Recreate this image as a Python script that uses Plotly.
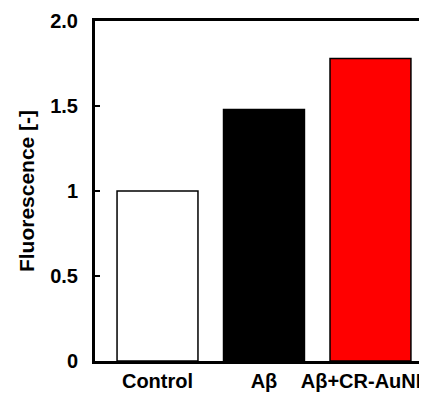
import plotly.graph_objects as go

categories = ["Control", "Aβ", "Aβ+CR-AuNPs"]
values = [1.0, 1.48, 1.78]
bar_colors = ["#FFFFFF", "#000000", "#FF0000"]
ytick_vals = [0, 0.5, 1, 1.5, 2.0]
ytick_text = ["0", "0.5", "1", "1.5", "2.0"]

FONT = "Liberation Sans, Arial, sans-serif"

fig = go.Figure(
    go.Bar(
        x=categories,
        y=values,
        marker=dict(color=bar_colors, line=dict(color="#000000", width=1.5)),
        width=0.76,
    )
)

# the page body adds an 8 px offset; margins compensate for it
fig.update_layout(
    width=427,
    height=394,
    margin=dict(l=87, r=0, t=13, b=41, autoexpand=False),
    paper_bgcolor="white",
    plot_bgcolor="white",
    showlegend=False,
    font=dict(family=FONT, color="#000000"),
)

fig.update_xaxes(
    type="category",
    range=[-0.587, 2.606],
    showline=True,
    linecolor="#000000",
    linewidth=3,
    mirror=True,
    showgrid=False,
    ticks="",
    tickfont=dict(family=FONT, size=20, weight="bold"),
    automargin=False,
)

fig.update_yaxes(
    range=[0, 2.0],
    tickvals=ytick_vals,
    ticktext=ytick_text,
    showline=True,
    linecolor="#000000",
    linewidth=3,
    showgrid=False,
    zeroline=False,
    ticks="inside",
    ticklen=5,
    tickwidth=2,
    tickcolor="#000000",
    ticklabelstandoff=10,
    tickfont=dict(family=FONT, size=20, weight="bold"),
    title=dict(text="Fluorescence [-]", font=dict(family=FONT, size=21, weight="bold"), standoff=10),
    automargin=False,
)

fig.write_html("out.html")
